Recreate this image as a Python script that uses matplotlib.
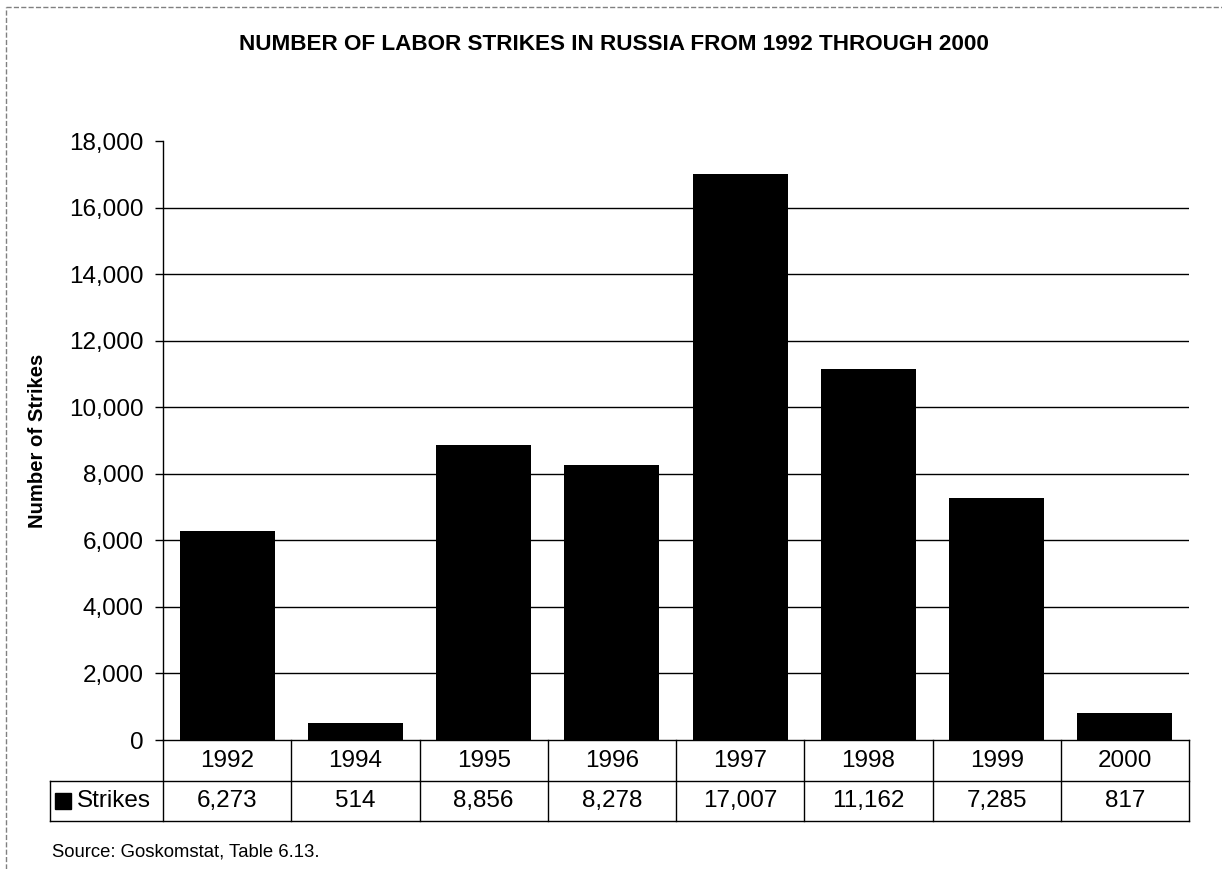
import numpy as np
import matplotlib.pyplot as plt
from matplotlib.transforms import blended_transform_factory
from matplotlib.patches import Rectangle

plt.rcParams['font.family'] = ['Liberation Sans', 'DejaVu Sans']

# data
years = ['1992', '1994', '1995', '1996', '1997', '1998', '1999', '2000']
strikes = [6273, 514, 8856, 8278, 17007, 11162, 7285, 817]
series_name = 'Strikes'

fig = plt.figure(figsize=(12.22, 8.69), dpi=100)
ax = fig.add_axes([0.1334, 0.1484, 0.8396, 0.6893])

x = np.arange(len(years))
ax.bar(x, strikes, width=0.74, color='black', zorder=3)
ax.set_xlim(-0.5, len(years) - 0.5)
ax.set_ylim(0, 18000)
ax.set_yticks(np.arange(0, 18001, 2000))
ax.set_yticklabels(['{:,}'.format(v) for v in range(0, 18001, 2000)])
ax.tick_params(axis='y', labelsize=17.5, length=6, width=1, pad=8)
ax.set_xticks([])
for v in range(2000, 18000, 2000):
    ax.axhline(v, color='black', lw=1, zorder=1)
for s in ['top', 'right', 'bottom']:
    ax.spines[s].set_visible(False)
ax.spines['left'].set_linewidth(1)

ax.set_ylabel('Number of Strikes', fontsize=14.6, fontweight='bold', labelpad=16)
fig.text(0.502, 0.949, 'NUMBER OF LABOR STRIKES IN RUSSIA FROM 1992 THROUGH 2000',
         ha='center', va='center', fontsize=16.2, fontweight='bold')

# data table under the axis
tr = blended_transform_factory(ax.transData, ax.transAxes)
r1 = -41 / 599
r2 = -81 / 599
lab_left = (50 - 163) / 1026
kw = dict(color='black', lw=1, clip_on=False)
ax.plot([0, 1], [0, 0], transform=ax.transAxes, **kw)
ax.plot([lab_left, 1], [r1, r1], transform=ax.transAxes, **kw)
ax.plot([lab_left, 1], [r2, r2], transform=ax.transAxes, **kw)
ax.plot([lab_left, lab_left], [r1, r2], transform=ax.transAxes, **kw)
ax.plot([0, 0], [0, r2], transform=ax.transAxes, **kw)
for i in range(len(years)):
    ax.plot([i + 0.5, i + 0.5], [0, r2], transform=tr, **kw)
    ax.text(i, r1 / 2, years[i], transform=tr, ha='center', va='center', fontsize=17.5)
    ax.text(i, (r1 + r2) / 2, '{:,}'.format(strikes[i]), transform=tr,
            ha='center', va='center', fontsize=17.5)
# legend key in the label cell
ax.add_patch(Rectangle((lab_left + 0.0049, (r1 + r2) / 2 - 0.014), 0.0156, 0.028,
                       transform=ax.transAxes, color='black', clip_on=False))
ax.text(lab_left + 0.0263, (r1 + r2) / 2, series_name, transform=ax.transAxes,
        ha='left', va='center', fontsize=17.5)

fig.text(52 / 1222, 1 - 852 / 869, 'Source: Goskomstat, Table 6.13.',
         ha='left', va='center', fontsize=13.3)

# outer border
fig.add_artist(plt.Line2D([6 / 1222, 6 / 1222], [0, 1 - 7 / 869], color='gray',
                          lw=1, ls='--', transform=fig.transFigure))
fig.add_artist(plt.Line2D([6 / 1222, 1], [1 - 7 / 869, 1 - 7 / 869], color='gray',
                          lw=1, ls='--', transform=fig.transFigure))

fig.savefig('out.png', dpi=100)
